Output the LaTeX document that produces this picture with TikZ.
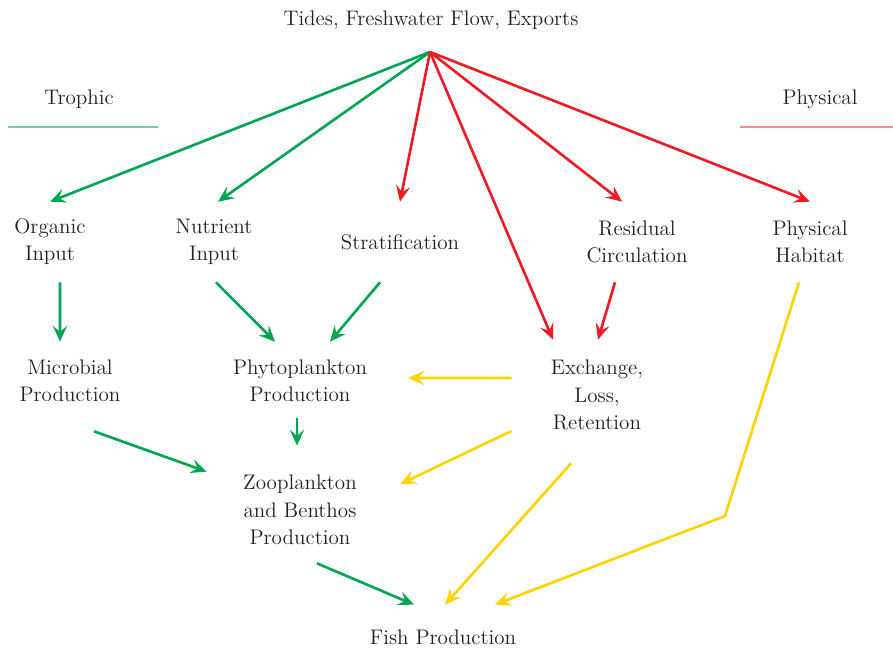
\documentclass[tikz,border=0pt]{standalone}
\usepackage{xcolor}
\usepackage{tikz}
\usetikzlibrary{positioning,arrows.meta,calc}

\definecolor{trgreen}{RGB}{0,166,81}
\definecolor{phred}{RGB}{237,28,36}
\definecolor{exyellow}{RGB}{255,210,0}
\definecolor{txtgray}{RGB}{35,31,32}

\begin{document}
\begin{tikzpicture}[x=0.02cm, y=-0.02cm,
  lbl/.style={align=center, text=txtgray, font=\fontsize{12}{15.5}\selectfont, inner sep=0pt},
  row/.style={lbl, minimum height=1.6cm},
  garrow/.style={-{Stealth[length=9pt, width=8pt, inset=3.5pt]}, draw=trgreen, line width=1.5pt},
  rarrow/.style={-{Stealth[length=9pt, width=8pt, inset=3.5pt]}, draw=phred, line width=1.5pt},
  yarrow/.style={-{Stealth[length=9pt, width=8pt, inset=3.5pt]}, draw=exyellow, line width=1.5pt}
  ]
  \useasboundingbox (0,0) rectangle (893,648);
  % headings
  \node[lbl] (Tides) at (431,20) {Tides, Freshwater Flow, Exports};
  \coordinate (Src) at (430,52);
  \node[lbl] (Troph) at (79,99) {Trophic};
  \node[lbl] (Phys) at (820,99) {Physical};
  \draw[trgreen!55, line width=0.9pt] (8,127) -- (158,127);
  \draw[phred!50, line width=0.9pt] (740,127) -- (893,127);
  % second row
  \node[row] (Org) at (50,242) {Organic\\Input};
  \node[row] (Nut) at (214,242) {Nutrient\\Input};
  \node[row] (Strat) at (400,242) {Stratification};
  \node[row] (Res) at (637,242) {Residual\\Circulation};
  \node[row] (Hab) at (810,242) {Physical\\Habitat};
  % third row
  \node[lbl, minimum height=1.56cm] (Mic) at (70,381) {Microbial\\Production};
  \node[lbl, minimum height=1.56cm, minimum width=4.32cm] (Phyto) at (300,381) {Phytoplankton\\Production};
  \node[lbl, minimum height=2.2cm, minimum width=3.4cm] (Exch) at (597,395) {Exchange,\\Loss,\\Retention};
  \node[lbl, minimum height=2.56cm, minimum width=3.72cm] (Zoo) at (300,510) {Zooplankton\\and Benthos\\Production};
  \node[lbl, minimum height=1.28cm] (Fish) at (443,637) {Fish Production};
  \coordinate (Bend) at (725,516);
  % forcing arrows
  \draw[garrow] (Src) -- (Org.north);
  \draw[garrow] (Src) -- ([xshift=0.08cm]Nut.north);
  \draw[rarrow] (Src) -- (Strat.north);
  \draw[rarrow] (Src) -- ([xshift=-0.88cm]Exch.north);
  \draw[rarrow] (Src) -- ([xshift=-0.3cm]Res.north);
  \draw[rarrow] (Src) -- (Hab.north);
  % trophic links
  \draw[garrow] ([xshift=0.2cm]Org.south) -- ([xshift=-0.2cm]Mic.north);
  \draw[garrow] ([xshift=0.04cm]Nut.south) -- ([xshift=-0.5cm]Phyto.north);
  \draw[garrow] ([xshift=-0.4cm]Strat.south) -- ([xshift=0.6cm]Phyto.north);
  \draw[rarrow] ([xshift=-0.44cm]Res.south) -- ([xshift=0.02cm]Exch.north);
  \draw[yarrow] ([yshift=0.34cm]Exch.west) -- ([yshift=0.06cm]Phyto.east);
  \draw[garrow] ([xshift=-0.06cm,yshift=0.04cm]Phyto.south) -- ([xshift=-0.06cm]Zoo.north);
  \draw[garrow] ([xshift=0.48cm,yshift=-0.22cm]Mic.south) -- ([yshift=-0.52cm]Zoo.north west);
  \draw[yarrow] ([yshift=-0.72cm]Exch.west) -- ([xshift=0.14cm,yshift=0.52cm]Zoo.east);
  \draw[yarrow] ([xshift=-0.52cm,yshift=-0.26cm]Exch.south) -- ([xshift=0.04cm]Fish.north);
  \draw[yarrow] ([xshift=-0.22cm]Hab.south) -- (Bend) -- ([xshift=1.04cm]Fish.north);
  \draw[garrow] ([xshift=0.34cm,yshift=0.22cm]Zoo.south) -- ([xshift=-0.58cm]Fish.north);
\end{tikzpicture}
\end{document}
